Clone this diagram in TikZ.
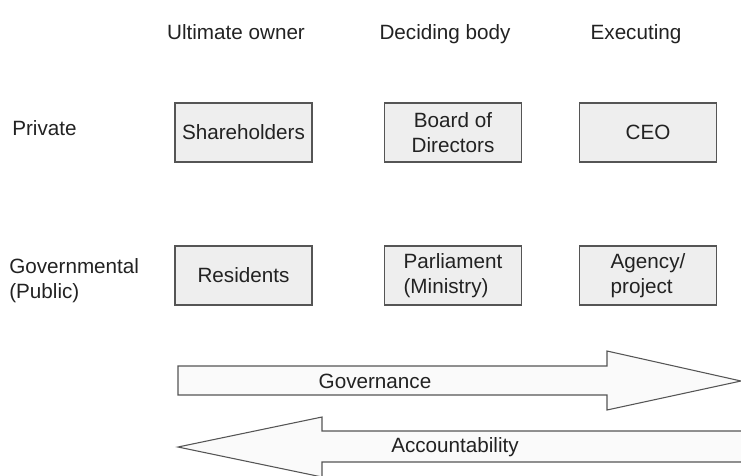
\documentclass[tikz,border=0pt]{standalone}
\usepackage{fontspec}
\setmainfont{Liberation Sans}
\definecolor{boxfill}{RGB}{238,238,238}
\definecolor{boxline}{RGB}{85,85,85}
\definecolor{arrfill}{RGB}{250,250,250}
\definecolor{txt}{RGB}{34,34,34}
\tikzset{govsec/.style={x=0.75pt,y=-0.75pt,font=\fontsize{15.5}{18.7}\selectfont,text=txt}}
\tikzset{rolebox/.style={draw=boxline,fill=boxfill,line width=0.9pt,minimum width=102.75pt,
           minimum height=44.25pt,inner sep=0pt,align=center},
         flowarrow/.style={draw=boxline,fill=arrfill,line width=0.8pt}}

\begin{document}
\begin{tikzpicture}[govsec]
    \useasboundingbox (0,0) rectangle (741,475);
    % column headers
    \node[anchor=base] (hown) at (236,39) {Ultimate owner};
    \node[anchor=base] (hdec) at (445,39) {Deciding body};
    \node[anchor=base] (hexe) at (636,39) {Executing};
    % row labels
    \node[anchor=west,inner sep=0pt] (lpriv) at (12,128) {Private};
    \node[anchor=west,inner sep=0pt,align=left] (lpub) at (9,281) {Governmental\\(Public)};
    % private row
    \node[rolebox] (share) at (243.5,132.5) {Shareholders};
    \node[rolebox] (board) at (453,132.5) {Board of\\Directors};
    \node[rolebox] (ceo)   at (648,132.5) {CEO};
    % public row
    \node[rolebox] (resid) at (243.5,275.5) {Residents};
    \node[rolebox,align=left] (parl) at (453,275.5) {Parliament\\(Ministry)};
    \node[rolebox,align=left] (agcy) at (648,275.5) {Agency/\\project};
    % flows
    \draw[flowarrow] (178,366) -- (607,366) -- (607,351) -- (741,381) -- (607,410)
        -- (607,395) -- (178,395) -- cycle;
    \draw[flowarrow] (760,431) -- (322,431) -- (322,417) -- (178,447) -- (322,477)
        -- (322,462) -- (760,462);
    \node (gov) at (375,381) {Governance};
    \node (acc) at (455,447) {Accountability};
  \end{tikzpicture}
\end{document}
